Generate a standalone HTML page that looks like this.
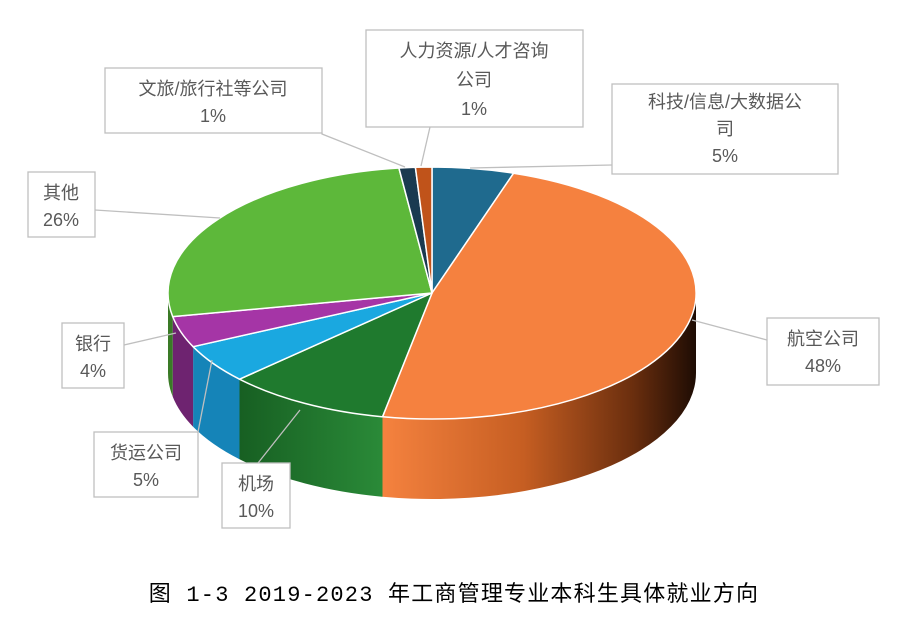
<!DOCTYPE html>
<html><head><meta charset="utf-8"><style>
body{margin:0;background:#fff;width:899px;height:621px;overflow:hidden}
text{font-family:"Liberation Sans","Noto Sans CJK SC",sans-serif}
.l{font-size:18px;fill:#595959}
</style></head><body>
<svg width="899" height="621" viewBox="0 0 899 621">
<defs>
<linearGradient id="ga" x1="382" y1="0" x2="696" y2="0" gradientUnits="userSpaceOnUse">
<stop offset="0" stop-color="#f5823f"/><stop offset="0.45" stop-color="#c65e22"/><stop offset="0.8" stop-color="#6a2e0e"/><stop offset="1" stop-color="#1e0c04"/></linearGradient>
<linearGradient id="gb" x1="239" y1="0" x2="382" y2="0" gradientUnits="userSpaceOnUse">
<stop offset="0" stop-color="#175f22"/><stop offset="1" stop-color="#2a8a38"/></linearGradient>
</defs>
<path d="M696,293 A264,126 0 0 1 382.5,416.8 L382.5,496.8 A264,126 0 0 0 696,373 Z" fill="url(#ga)"/>
<path d="M382.5,416.8 A264,126 0 0 1 239.5,379.2 L239.5,459.2 A264,126 0 0 0 382.5,496.8 Z" fill="url(#gb)"/>
<path d="M239.5,379.2 A264,126 0 0 1 193.1,346.7 L193.1,426.7 A264,126 0 0 0 239.5,459.2 Z" fill="#1584b8"/>
<path d="M193.1,346.7 A264,126 0 0 1 172.7,316.6 L172.7,396.6 A264,126 0 0 0 193.1,426.7 Z" fill="#6e2370"/>
<path d="M172.7,316.6 A264,126 0 0 1 168,293 L168,373 A264,126 0 0 0 172.7,396.6 Z" fill="#3a7a26"/>
<g stroke="#fff" stroke-width="1.5" stroke-linejoin="round">
<path d="M432,293 L432,167 A264,126 0 0 1 513.6,173.2 Z" fill="#1f6a8e"/>
<path d="M432,293 L513.6,173.2 A264,126 0 0 1 382.5,416.8 Z" fill="#f5813f"/>
<path d="M432,293 L382.5,416.8 A264,126 0 0 1 239.5,379.2 Z" fill="#1f7a2e"/>
<path d="M432,293 L239.5,379.2 A264,126 0 0 1 193.1,346.7 Z" fill="#1aa8e0"/>
<path d="M432,293 L193.1,346.7 A264,126 0 0 1 172.7,316.6 Z" fill="#a535a6"/>
<path d="M432,293 L172.7,316.6 A264,126 0 0 1 398.9,168 Z" fill="#5db83a"/>
<path d="M432,293 L398.9,168 A264,126 0 0 1 415.4,167.25 Z" fill="#1a3a50"/>
<path d="M432,293 L415.4,167.25 A264,126 0 0 1 432,167 Z" fill="#c0531a"/>
</g>
<g stroke="#bfbfbf" stroke-width="1.3" fill="none">
<polyline points="405,167 322,134 322,133"/>
<line x1="421" y1="166" x2="430" y2="127"/>
<polyline points="470,168 612,165"/>
<polyline points="220,218 95,210"/>
<polyline points="692,320 767,340"/>
<polyline points="176,333 124,345"/>
<polyline points="212,360 198,432"/>
<polyline points="300,410 258,463"/>
</g>
<g fill="#fff" stroke="#bfbfbf" stroke-width="1.3">
<rect x="105" y="68" width="217" height="65"/>
<rect x="366" y="30" width="217" height="97"/>
<rect x="612" y="84" width="226" height="90"/>
<rect x="28" y="172" width="67" height="65"/>
<rect x="767" y="318" width="112" height="67"/>
<rect x="62" y="323" width="62" height="65"/>
<rect x="94" y="432" width="104" height="65"/>
<rect x="222" y="463" width="68" height="65"/>
</g>
<g class="l" text-anchor="middle">
<text x="213" y="95">文旅/旅行社等公司</text><text x="213" y="122">1%</text>
<text x="474" y="57">人力资源/人才咨询</text><text x="474" y="86">公司</text><text x="474" y="115">1%</text>
<text x="725" y="108">科技/信息/大数据公</text><text x="725" y="135">司</text><text x="725" y="162">5%</text>
<text x="61" y="199">其他</text><text x="61" y="226">26%</text>
<text x="823" y="345">航空公司</text><text x="823" y="372">48%</text>
<text x="93" y="350">银行</text><text x="93" y="377">4%</text>
<text x="146" y="459">货运公司</text><text x="146" y="486">5%</text>
<text x="256" y="490">机场</text><text x="256" y="517">10%</text>
</g>
<text x="454" y="601" text-anchor="middle" style="font-size:22px;letter-spacing:1.2px;fill:#000;font-family:'Liberation Mono','Noto Sans CJK SC',monospace">图 1-3 2019-2023 年工商管理专业本科生具体就业方向</text>
</svg>
</body></html>
